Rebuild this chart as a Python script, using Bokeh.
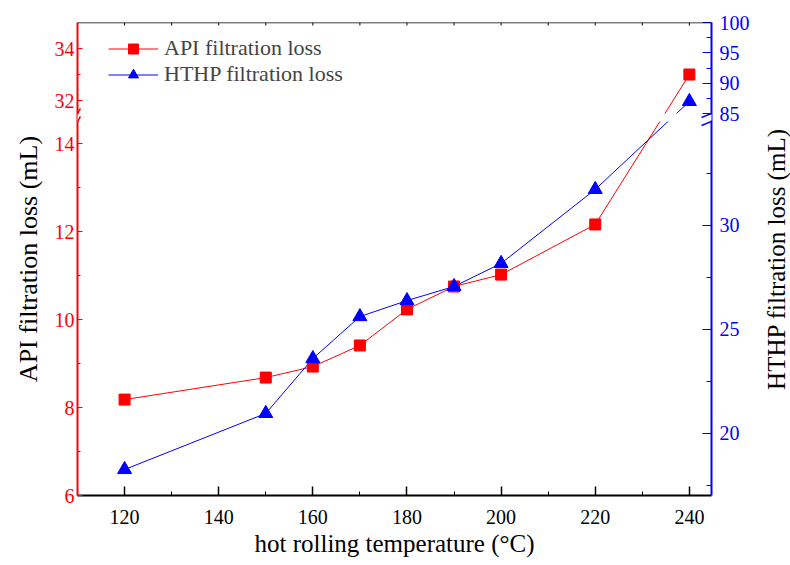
import numpy as np
from bokeh.plotting import figure
from bokeh.layouts import row
from bokeh.models import Range1d, LinearAxis, FixedTicker, Legend, LegendItem, Arrow
from bokeh.embed import file_html
from bokeh.resources import INLINE

# ---------------- data ----------------
temperature = [120, 150, 160, 170, 180, 190, 200, 220, 240]
api_loss = [8.18, 8.68, 8.93, 9.41, 10.23, 10.75, 11.02, 12.16, 33.0]
hthp_loss = [18.25, 20.95, 23.59, 25.61, 26.38, 27.06, 28.17, 31.73, 86.98]

temp_major = [120, 140, 160, 180, 200, 220, 240]
temp_minor = [130, 150, 170, 190, 210, 230]
temp_top = [120, 130, 140, 150, 160, 170, 180, 190, 200, 210, 220, 230, 240]

api_major = [6, 8, 10, 12, 14, 32, 34]
api_minor = [7, 9, 11, 13, 33]
hthp_major = [20, 25, 30, 85, 90, 95, 100]
hthp_minor = [17.5, 22.5, 27.5, 32.5, 87.5, 92.5, 97.5]

# broken axes: lower segment and upper segment of each y axis
api_breaks = [6, 14.5, 31.5, 35]
hthp_breaks = [17, 35, 85, 100]

x_title = "hot rolling temperature (°C)"
api_title = "API filtration loss (mL)"
hthp_title = "HTHP filtration loss (mL)"

# ---------------- layout / style ----------------
AXIS_SHARE = [0.0, 374 / 473, 382 / 473, 1.0]
SPAN = 1000.0
X0, X1 = 110.0, 244.7
FRAME_W, FRAME_H = 637, 473
FONT = "Liberation Serif"
RED, BLUE = "#FF0000", "#0000FF"


def to_y(values, breaks):
    return np.interp(np.asarray(values, dtype=float), breaks,
                     np.array(AXIS_SHARE) * SPAN)


p = figure(width=752, height=565, x_range=Range1d(X0, X1), y_range=Range1d(0, SPAN),
           output_backend="svg", toolbar_location=None,
           x_axis_location=None, y_axis_location=None,
           min_border_left=77, min_border_right=38, min_border_top=22, min_border_bottom=70)
p.outline_line_color = None
p.grid.visible = False
p.background_fill_color = "white"

ux = (X1 - X0) / FRAME_W
uy = SPAN / FRAME_H
y_lo = AXIS_SHARE[1] * SPAN
y_hi = AXIS_SHARE[2] * SPAN

api_y = to_y(api_loss, api_breaks)
hthp_y = to_y(hthp_loss, hthp_breaks)

r_api_line = p.line(temperature, api_y, line_color=RED, line_width=1)
r_hthp_line = p.line(temperature, hthp_y, line_color=BLUE, line_width=1)
# white band that opens the lines at the axis break
p.quad(left=[X0], right=[X1], bottom=[y_lo], top=[y_hi], fill_color="white", line_color=None)
r_api_pts = p.scatter(temperature, api_y, marker="square", size=11, fill_color=RED, line_color=RED)
r_hthp_pts = p.scatter(temperature, hthp_y, marker="triangle", size=14, fill_color=BLUE, line_color=BLUE)

# top frame line with small inward ticks
p.segment(x0=temp_top, y0=[SPAN] * len(temp_top), x1=temp_top,
          y1=[SPAN - 3 * uy] * len(temp_top), line_color="black", line_width=1)
p.add_layout(Arrow(end=None, x_start=X0, y_start=SPAN, x_end=X1, y_end=SPAN,
                   line_color="black", line_width=1.5))

# ---------------- axes ----------------
def label_font(ax, size):
    ax.major_label_text_font = FONT
    ax.major_label_text_font_size = size
    ax.axis_label_text_font = FONT
    ax.axis_label_text_font_style = "normal"
    ax.axis_label_text_color = "black"


xb = LinearAxis(ticker=FixedTicker(ticks=temp_major, minor_ticks=temp_minor),
                axis_label=x_title)
label_font(xb, "20px")
xb.axis_label_text_font_size = "25px"
xb.axis_line_width = 2
xb.major_tick_in, xb.major_tick_out = 9, 0
xb.minor_tick_in, xb.minor_tick_out = 4, 0
xb.major_tick_line_width = 1.5
xb.major_label_standoff = 14
xb.axis_label_standoff = 3
xb.major_label_text_color = "black"
p.add_layout(xb, "below")

api_ticks = [round(float(v), 4) for v in to_y(api_major, api_breaks)]
api_mticks = [round(float(v), 4) for v in to_y(api_minor, api_breaks)]
yl = LinearAxis(ticker=FixedTicker(ticks=api_ticks, minor_ticks=api_mticks),
                axis_label=api_title)
yl.major_label_overrides = {t: str(v) for t, v in zip(api_ticks, api_major)}
label_font(yl, "20px")
yl.axis_label_text_font_size = "26px"
yl.axis_line_color = RED
yl.axis_line_width = 2
yl.major_tick_line_color = RED
yl.minor_tick_line_color = RED
yl.major_tick_in, yl.major_tick_out = 5, 0
yl.minor_tick_in, yl.minor_tick_out = 3, 0
yl.major_label_text_color = RED
yl.major_label_standoff = 3
yl.axis_label_standoff = 9
p.add_layout(yl, "left")

hthp_ticks = [round(float(v), 4) for v in to_y(hthp_major, hthp_breaks)]
hthp_mticks = [round(float(v), 4) for v in to_y(hthp_minor, hthp_breaks)]
yr = LinearAxis(ticker=FixedTicker(ticks=hthp_ticks, minor_ticks=hthp_mticks))
yr.major_label_overrides = {t: str(v) for t, v in zip(hthp_ticks, hthp_major)}
label_font(yr, "20px")
yr.axis_line_color = BLUE
yr.axis_line_width = 2
yr.major_tick_line_color = BLUE
yr.minor_tick_line_color = BLUE
yr.major_tick_in, yr.major_tick_out = 9, 0
yr.minor_tick_in, yr.minor_tick_out = 5, 0
yr.major_label_text_color = BLUE
yr.major_label_standoff = 8
p.add_layout(yr, "right")

# ---------------- break marks ----------------
def seg(xc, yc, dx, dy, color, width):
    p.add_layout(Arrow(end=None, x_start=xc - dx * ux, y_start=yc - dy * uy,
                       x_end=xc + dx * ux, y_end=yc + dy * uy,
                       line_color=color, line_width=width))


for xa in (X0, X1):
    p.add_layout(Arrow(end=None, x_start=xa, y_start=y_lo + uy, x_end=xa, y_end=y_hi - uy,
                       line_color="white", line_width=4))
for yc in (y_lo, y_hi):
    seg(X0, yc, 3, 5, RED, 1.5)
    seg(X1, yc, 10, 4, BLUE, 1.5)

# ---------------- legend ----------------
legend = Legend(items=[LegendItem(label="API filtration loss", renderers=[r_api_line, r_api_pts]),
                       LegendItem(label="HTHP filtration loss", renderers=[r_hthp_line, r_hthp_pts])],
                location=(31, 408), margin=0, padding=0, spacing=0,
                glyph_width=50, glyph_height=25, label_height=25, label_standoff=6,
                label_text_font=FONT, label_text_font_size="22px",
                border_line_color=None, background_fill_alpha=0)
p.add_layout(legend)

# ---------------- right axis title (a narrow companion figure) ----------------
p2 = figure(width=38, height=565, x_range=Range1d(0, 1), y_range=Range1d(0, 1),
            output_backend="svg", toolbar_location=None,
            x_axis_location=None, y_axis_location=None,
            min_border_left=37, min_border_right=0, min_border_top=22, min_border_bottom=70)
p2.outline_line_color = None
p2.grid.visible = False
t_ax = LinearAxis(ticker=FixedTicker(ticks=[], minor_ticks=[]), axis_label=hthp_title)
t_ax.axis_line_color = None
t_ax.major_tick_line_color = None
t_ax.minor_tick_line_color = None
t_ax.major_label_standoff = 0
t_ax.axis_label_standoff = 0
t_ax.axis_label_text_font = FONT
t_ax.axis_label_text_font_size = "25px"
t_ax.axis_label_text_font_style = "normal"
t_ax.axis_label_text_color = "black"
p2.add_layout(t_ax, "left")

layout = row(p, p2, spacing=0)
open("out.html", "w").write(file_html(layout, INLINE))
